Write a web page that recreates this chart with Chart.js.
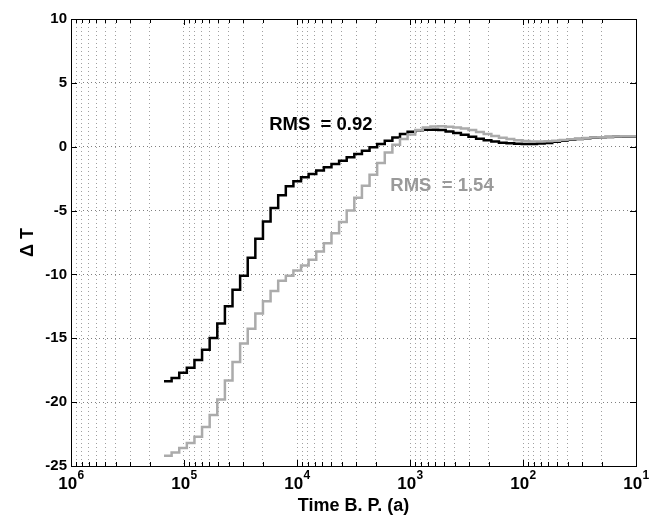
<!DOCTYPE html>
<html><head><meta charset="utf-8">
<script src="https://cdn.jsdelivr.net/npm/chart.js@4.4.1/dist/chart.umd.min.js"></script>
<style>html,body{margin:0;padding:0;background:#fff;}canvas{display:block;}</style>
</head><body>
<canvas id="c" width="667" height="518"></canvas>
<script>
// Step boundaries (years before present), left edge of each step; last entry closes the final step
const timeBP = [150300,128700,110200,94380,80820,69210,59270,50750,43460,37210,
  31870,27290,23370,20010,17130,14670,12560,10760,9212,7888,
  6755,5784,4953,4241,3632,3110,2663,2280,1953,1672,
  1432,1226,1050,899,769.9,659.3,564.6,483.5,414,354.5,
  303.6,260,222.6,190.6,163.3,139.8,119.7,102.5,87.77,75.16,
  64.36,55.11,47.19,40.41,34.6,29.63,25.37,21.73,18.6,15.93,
  13.64,11.68,10];

// Black reconstruction (RMS = 0.92)
const deltaTBlack = [-18.36,-18.1,-17.7,-17.3,-16.7,-15.9,-14.97,-13.85,-12.5,-11.2,
  -10.1,-8.7,-7.2,-5.86,-4.8,-3.8,-3.1,-2.71,-2.4,-2.13,
  -1.87,-1.61,-1.35,-1.09,-0.83,-0.57,-0.31,-0.05,0.21,0.47,
  0.73,0.99,1.18,1.28,1.33,1.33,1.3,1.2,1.08,0.93,
  0.78,0.63,0.5,0.4,0.32,0.27,0.24,0.22,0.22,0.25,
  0.3,0.38,0.46,0.54,0.61,0.66,0.71,0.74,0.76,0.78,
  0.79,0.8];

// Gray reconstruction (RMS = 1.54)
const deltaTGray = [-24.2,-23.95,-23.6,-23.2,-22.7,-21.95,-21.0,-19.8,-18.3,-16.85,
  -15.4,-14.25,-13.05,-12.1,-11.3,-10.5,-10.1,-9.7,-9.3,-8.85,
  -8.2,-7.55,-6.77,-5.9,-5.0,-4.0,-3.05,-2.2,-1.28,-0.45,
  0.15,0.6,0.95,1.3,1.5,1.58,1.6,1.57,1.5,1.42,
  1.3,1.15,1.0,0.84,0.7,0.6,0.5,0.44,0.4,0.4,
  0.42,0.47,0.52,0.58,0.63,0.68,0.72,0.75,0.78,0.8,
  0.81,0.82];

const yTickValues = [10,5,0,-5,-10,-15,-20,-25];
const xDecades = [1e6,1e5,1e4,1e3,1e2,1e1];
const xDecadeExponents = ['6','5','4','3','2','1'];
const rmsLabels = [
  {text:'RMS  = 0.92', t:6155, v:1.70, color:'#000000'},
  {text:'RMS  = 1.54', t:521, v:-3.07, color:'#9a9a9a'}
];

const FONT = '"Liberation Sans", Arial, Helvetica, sans-serif';

// log-axis grid positions: 1..9 x 10^n
const xGrid = [];
for (let e = 1; e <= 5; e++) for (let m = 1; m <= 9; m++) xGrid.push(m * Math.pow(10, e));
xGrid.push(1e6);

function steps(vals) {
  return timeBP.map((t, i) => ({x: t, y: vals[Math.min(i, vals.length - 1)]}));
}

const decor = {
  id: 'decor',
  afterDraw(chart) {
    const {ctx, chartArea: a, scales: {x, y}} = chart;
    ctx.save();
    ctx.strokeStyle = '#000';
    ctx.lineWidth = 1;
    ctx.setLineDash([]);
    ctx.strokeRect(Math.round(a.left) + 0.5, Math.round(a.top) + 0.5,
      Math.round(a.right - a.left), Math.round(a.bottom - a.top));
    ctx.beginPath();
    xGrid.forEach(v => {
      const px = Math.round(x.getPixelForValue(v)) + 0.5;
      const len = xDecades.includes(v) ? 6 : 4;
      ctx.moveTo(px, a.bottom); ctx.lineTo(px, a.bottom - len);
      ctx.moveTo(px, a.top); ctx.lineTo(px, a.top + len);
    });
    yTickValues.forEach(v => {
      const py = Math.round(y.getPixelForValue(v)) + 0.5;
      ctx.moveTo(a.left, py); ctx.lineTo(a.left + 6, py);
      ctx.moveTo(a.right, py); ctx.lineTo(a.right - 6, py);
    });
    ctx.stroke();
    ctx.fillStyle = '#000';
    ctx.textBaseline = 'alphabetic';
    ctx.textAlign = 'left';
    xDecades.forEach((d, i) => {
      const px = x.getPixelForValue(d);
      ctx.font = 'bold 17px ' + FONT;
      const w1 = ctx.measureText('10').width;
      ctx.font = 'bold 12px ' + FONT;
      const w2 = ctx.measureText(xDecadeExponents[i]).width;
      const s = px - (w1 + w2) / 2;
      ctx.font = 'bold 17px ' + FONT;
      ctx.fillText('10', s, 489);
      ctx.font = 'bold 12px ' + FONT;
      ctx.fillText(xDecadeExponents[i], s + w1 + 0.5, 479);
    });
    ctx.textAlign = 'center';
    ctx.textBaseline = 'middle';
    ctx.font = 'bold 18.5px ' + FONT;
    rmsLabels.forEach(l => {
      ctx.fillStyle = l.color;
      ctx.fillText(l.text, x.getPixelForValue(l.t), y.getPixelForValue(l.v));
    });
    ctx.restore();
  }
};

new Chart(document.getElementById('c'), {
  type: 'line',
  data: {
    datasets: [
      {label: 'RMS = 0.92', data: steps(deltaTBlack), borderColor: '#000000', borderWidth: 2.5,
       stepped: true, pointRadius: 0, fill: false, order: 1},
      {label: 'RMS = 1.54', data: steps(deltaTGray), borderColor: '#ababab', borderWidth: 2.5,
       stepped: true, pointRadius: 0, fill: false, order: 0}
    ]
  },
  options: {
    responsive: false,
    animation: false,
    devicePixelRatio: 1,
    layout: {padding: {top: 19, right: 31, left: 0, bottom: 0}},
    plugins: {legend: {display: false}, tooltip: {enabled: false}},
    scales: {
      x: {
        type: 'logarithmic', reverse: true, min: 10, max: 1e6, position: 'bottom',
        afterBuildTicks: s => { s.ticks = xGrid.map(v => ({value: v, major: xDecades.includes(v)})); },
        afterFit: s => { s.height = 52; },
        ticks: {display: false},
        grid: {color: '#a0a0a0', lineWidth: 1, drawTicks: false},
        border: {display: false, dash: [1, 3]},
        title: {display: true, text: 'Time B. P. (a)', color: '#000',
                font: {family: FONT, size: 18, weight: 'bold'}, padding: {top: 0, bottom: 1}}
      },
      y: {
        min: -25, max: 10,
        afterBuildTicks: s => { s.ticks = yTickValues.map(v => ({value: v})); },
        afterFit: s => { s.width = 71; },
        ticks: {color: '#000', padding: 4, font: {family: FONT, size: 15, weight: 'bold'}},
        grid: {color: '#808080', lineWidth: 1, drawTicks: false},
        border: {display: false, dash: [1, 3]},
        title: {display: true, text: '\u0394 T', color: '#000',
                font: {family: FONT, size: 18, weight: 'bold'}, padding: {top: 17, bottom: 0}}
      }
    }
  },
  plugins: [decor]
});
</script>
</body></html>
